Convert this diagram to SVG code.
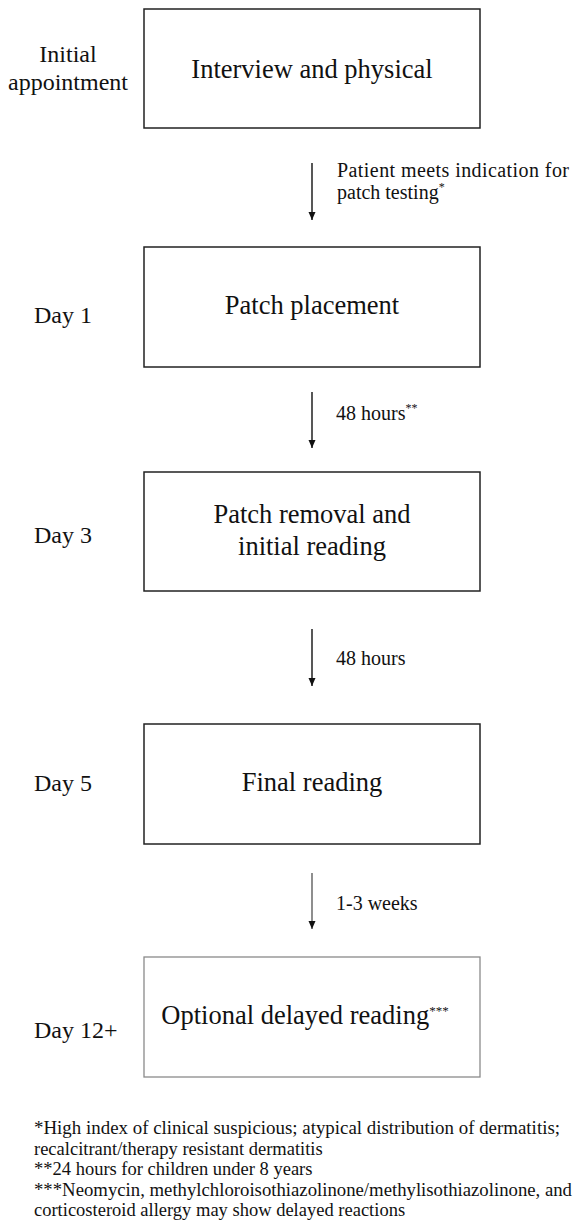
<svg xmlns="http://www.w3.org/2000/svg" width="575" height="1227" viewBox="0 0 575 1227" font-family="'Liberation Serif', 'DejaVu Serif', serif">
<style>
text { font-family: 'Liberation Serif', 'DejaVu Serif', serif; fill: #111; }
.box { fill: #fff; stroke: #222; stroke-width: 1.5; }
.box5 { fill: #fff; stroke: #8a8a8a; stroke-width: 1.3; }
.main { font-size: 26.5px; text-anchor: middle; }
.side { font-size: 24px; }
.lbl { font-size: 20px; }
.note { font-size: 18.5px; }
.conn { stroke: #111; stroke-width: 1.4; fill: none; marker-end: url(#ah); }
</style>
<defs>
<marker id="ah" markerUnits="userSpaceOnUse" markerWidth="8" markerHeight="9" refX="8" refY="3.5" orient="auto">
<path d="M0,0 L8,3.5 L0,7 z" fill="#111"/>
</marker>
</defs>
<rect width="575" height="1227" fill="#fff"/>

<g id="connectors">
<line class="conn" x1="312" y1="163" x2="312" y2="220"/>
<line class="conn" x1="312" y1="392" x2="312" y2="448"/>
<line class="conn" x1="312" y1="629" x2="312" y2="686"/>
<line class="conn" x1="312" y1="873" x2="312" y2="929" style="stroke:#444;stroke-width:1.2"/>
<text class="lbl" x="337" y="177" textLength="232" lengthAdjust="spacing">Patient meets indication for</text>
<text class="lbl" x="337" y="199">patch testing<tspan font-size="12" dy="-8">*</tspan></text>
<text class="lbl" x="336" y="420">48 hours<tspan font-size="12" dy="-8">**</tspan></text>
<text class="lbl" x="336" y="665">48 hours</text>
<text class="lbl" x="336" y="910">1-3 weeks</text>
</g>

<g id="node-interview">
<rect class="box" x="144" y="9" width="336" height="119"/>
<text class="main" x="312" y="78">Interview and physical</text>
<text class="side" x="68" y="62" text-anchor="middle">Initial</text>
<text class="side" x="68" y="90" text-anchor="middle">appointment</text>
</g>

<g id="node-placement">
<rect class="box" x="144" y="247" width="336" height="120"/>
<text class="main" x="312" y="314">Patch placement</text>
<text class="side" x="34" y="323">Day 1</text>
</g>

<g id="node-removal">
<rect class="box" x="144" y="472" width="336" height="119"/>
<text class="main" x="312" y="523">Patch removal and</text>
<text class="main" x="312" y="555">initial reading</text>
<text class="side" x="34" y="543">Day 3</text>
</g>

<g id="node-final">
<rect class="box" x="144" y="724" width="336" height="120"/>
<text class="main" x="312" y="791">Final reading</text>
<text class="side" x="34" y="791">Day 5</text>
</g>

<g id="node-delayed">
<rect class="box5" x="144" y="957" width="336" height="120"/>
<text class="main" x="305" y="1024">Optional delayed reading<tspan font-size="13" dy="-9">***</tspan></text>
<text class="side" x="34" y="1038">Day 12+</text>
</g>

<g id="footnotes">
<text class="note" x="34" y="1134" textLength="526" lengthAdjust="spacingAndGlyphs">*High index of clinical suspicious; atypical distribution of dermatitis;</text>
<text class="note" x="34" y="1155">recalcitrant/therapy resistant dermatitis</text>
<text class="note" x="34" y="1175">**24 hours for children under 8 years</text>
<text class="note" x="34" y="1196" textLength="538" lengthAdjust="spacingAndGlyphs">***Neomycin, methylchloroisothiazolinone/methylisothiazolinone, and</text>
<text class="note" x="34" y="1216">corticosteroid allergy may show delayed reactions</text>
</g>
</svg>
